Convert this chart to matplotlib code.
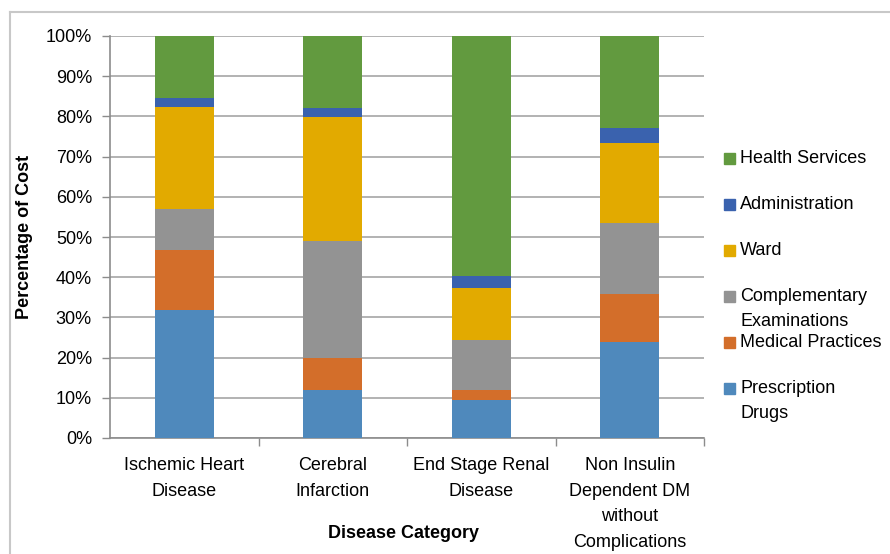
import matplotlib.pyplot as plt
from matplotlib.patches import Rectangle
from matplotlib.lines import Line2D
import numpy as np

plt.rcParams['font.family'] = ['Liberation Sans', 'DejaVu Sans']

# Data (percent of cost)
categories = ["Ischemic Heart\nDisease", "Cerebral\nInfarction", "End Stage Renal\nDisease",
              "Non Insulin\nDependent DM\nwithout\nComplications"]
prescription_drugs = [31.8, 11.9, 9.4, 23.8]
medical_practices = [15.0, 7.9, 2.5, 11.9]
complementary_exams = [10.2, 29.3, 12.6, 17.9]
ward = [25.4, 30.8, 12.9, 19.9]
administration = [2.2, 2.2, 2.8, 3.5]
health_services = [15.4, 17.9, 59.8, 23.0]

series_names = ["Prescription\nDrugs", "Medical Practices", "Complementary\nExaminations",
                "Ward", "Administration", "Health Services"]
series_values = [prescription_drugs, medical_practices, complementary_exams,
                 ward, administration, health_services]
colors = ["#4F89BC", "#D36E2A", "#939393", "#E2AA00", "#3A62AE", "#629A3F"]

fig = plt.figure(figsize=(8.9, 5.54), dpi=100)
ax = fig.add_axes([110 / 890, 1 - 438 / 554, 594 / 890, 402 / 554])

x = np.arange(len(categories))
bottom = np.zeros(len(categories))
for vals, col in zip(series_values, colors):
    ax.bar(x, vals, width=0.4, bottom=bottom, color=col, zorder=3)
    bottom += np.array(vals)

ax.set_xlim(-0.5, len(categories) - 0.5)
ax.set_ylim(0, 100)
ax.set_yticks(np.arange(0, 101, 10))
ax.set_yticklabels([f"{v}%" for v in range(0, 101, 10)], fontsize=13)
ax.yaxis.grid(True, color="#A6A6A6", linewidth=1.2, zorder=0)
ax.tick_params(axis="y", length=6, width=1, color="#8C8C8C", pad=7)

ax.set_xticks(x)
ax.set_xticklabels(categories, fontsize=13, linespacing=1.65)
ax.tick_params(axis="x", which="major", length=0, pad=14)
ax.set_xticks(np.arange(0.5, len(categories) - 0.4, 1), minor=True)
ax.tick_params(axis="x", which="minor", length=6, width=1, color="#8C8C8C")

for s in ["top", "right"]:
    ax.spines[s].set_visible(False)
for s in ["left", "bottom"]:
    ax.spines[s].set_color("#8C8C8C")
    ax.spines[s].set_linewidth(1.2)

fig.text(25 / 890, 1 - 237 / 554, "Percentage of Cost", rotation=90, fontsize=13,
         fontweight="bold", ha="center", va="center")
fig.text(404 / 890, 1 - 533 / 554, "Disease Category", fontsize=13,
         fontweight="bold", ha="center", va="center")

# legend, top entry first
leg_y = [388, 342, 296, 250, 204, 158]
for name, col, yy in zip(series_names, colors, leg_y):
    fig.patches.append(Rectangle((724 / 890, 1 - (yy + 6) / 554), 11 / 890, 11 / 554,
                                 transform=fig.transFigure, color=col))
    fig.text(740 / 890, 1 - (yy - 8) / 554, name, fontsize=13, ha="left", va="top",
             linespacing=1.6)

# outer frame
fig.lines.append(Line2D([10 / 890, 1], [1 - 12 / 554] * 2, transform=fig.transFigure,
                        color="#C8C8C8", linewidth=1.5))
fig.lines.append(Line2D([10 / 890] * 2, [0, 1 - 12 / 554], transform=fig.transFigure,
                        color="#C8C8C8", linewidth=1.5))

fig.savefig("out.png", dpi=100)
